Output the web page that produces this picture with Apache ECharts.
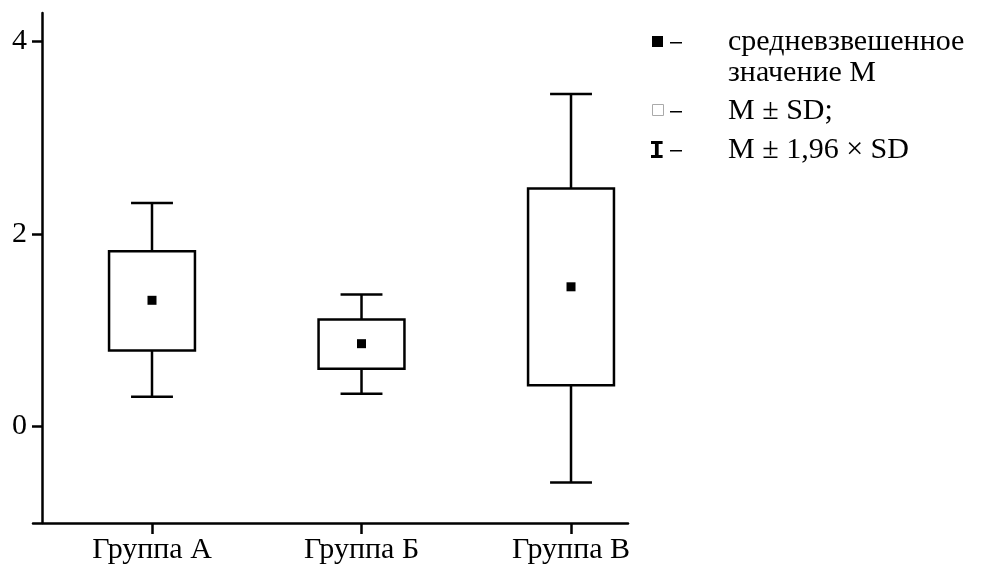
<!DOCTYPE html>
<html>
<head>
<meta charset="utf-8">
<script src="https://cdn.jsdelivr.net/npm/echarts@6/dist/echarts.min.js"></script>
<style>
  html, body { margin: 0; padding: 0; background: #fff; }
  #chart { width: 983px; height: 565px; }
</style>
</head>
<body>
<div id="chart"></div>
<script>
// группы
var groups = ['Группа А', 'Группа Б', 'Группа В']
var groupPos = [1, 2, 3]
// M
var means = [1.31, 0.86, 1.45]
// M ± SD
var boxLow = [0.79, 0.60, 0.43]
var boxHigh = [1.82, 1.11, 2.47]
// M ± 1,96 × SD
var whiskerLow = [0.31, 0.34, -0.58]
var whiskerHigh = [2.32, 1.37, 3.45]
// подписи оси Y
var yTicks = [0, 2, 4]

var font = '"Liberation Serif", "Times New Roman", serif'

var data = groupPos.map(function (x, i) {
  return [x, whiskerLow[i], boxLow[i], means[i], boxHigh[i], whiskerHigh[i]]
})

function renderBox(params, api) {
  var x = api.value(0)
  var pWLow = api.coord([x, api.value(1)])
  var pBLow = api.coord([x, api.value(2)])
  var pMean = api.coord([x, api.value(3)])
  var pBHigh = api.coord([x, api.value(4)])
  var pWHigh = api.coord([x, api.value(5)])
  var boxW = api.size([0.41, 0])[0]
  var capW = api.size([0.2, 0])[0]
  var cx = pMean[0]
  var line = { stroke: '#000', lineWidth: 2.5, fill: null }
  return {
    type: 'group',
    children: [
      { type: 'line', shape: { x1: cx, y1: pWHigh[1], x2: cx, y2: pBHigh[1] }, style: line },
      { type: 'line', shape: { x1: cx - capW / 2, y1: pWHigh[1], x2: cx + capW / 2, y2: pWHigh[1] }, style: line },
      { type: 'line', shape: { x1: cx, y1: pBLow[1], x2: cx, y2: pWLow[1] }, style: line },
      { type: 'line', shape: { x1: cx - capW / 2, y1: pWLow[1], x2: cx + capW / 2, y2: pWLow[1] }, style: line },
      {
        type: 'rect',
        shape: { x: cx - boxW / 2, y: pBHigh[1], width: boxW, height: pBLow[1] - pBHigh[1] },
        style: { stroke: '#000', lineWidth: 2.5, fill: '#fff' }
      },
      {
        type: 'rect',
        shape: { x: cx - 4.5, y: pMean[1] - 4.5, width: 9, height: 9 },
        style: { fill: '#000' }
      }
    ]
  }
}

var legendX = 728
var legendText = ['средневзвешенное', 'значение M', 'M ± SD;', 'M ± 1,96 × SD']
var legendY = [41, 72, 110, 149]

var graphics = legendText.map(function (t, i) {
  return {
    type: 'text', left: legendX, top: legendY[i] - 14,
    style: { text: t, font: '30px ' + font, fill: '#000' }
  }
})
// значки легенды
graphics.push(
  { type: 'rect', shape: { x: 652, y: 36, width: 11, height: 11 }, style: { fill: '#000' } },
  { type: 'rect', shape: { x: 652.5, y: 104.5, width: 11, height: 11 }, style: { fill: '#fff', stroke: '#aaa', lineWidth: 1 } },
  { type: 'text', left: 649, top: legendY[3] - 11, style: { text: 'I', font: 'bold 26px "Liberation Mono", monospace', fill: '#000' } }
)
;[42, 111, 150].forEach(function (y) {
  graphics.push({ type: 'rect', shape: { x: 670, y: y, width: 12, height: 1.5 }, style: { fill: '#000' } })
})

var chart = echarts.init(document.getElementById('chart'))
chart.setOption({
  animation: false,
  backgroundColor: '#fff',
  grid: { left: 33, right: 355, top: 13, bottom: 42 },
  xAxis: {
    type: 'value',
    min: 0.432,
    max: 3.272,
    splitLine: { show: false },
    axisLine: { show: true, onZero: false, lineStyle: { color: '#000', width: 2.5 } },
    axisTick: { show: true, customValues: groupPos, length: 11, lineStyle: { color: '#000', width: 2.5 } },
    axisLabel: {
      customValues: groupPos,
      margin: 12,
      color: '#000',
      fontFamily: font,
      fontSize: 30,
      formatter: function (v) { return groups[Math.round(v) - 1] }
    }
  },
  yAxis: {
    type: 'value',
    min: -1,
    max: 4.29,
    offset: -9,
    splitLine: { show: false },
    axisLine: { show: true, onZero: false, lineStyle: { color: '#000', width: 2.5 } },
    axisTick: { show: true, customValues: yTicks, length: 10, lineStyle: { color: '#000', width: 2.5 } },
    axisLabel: {
      customValues: yTicks,
      margin: 15,
      color: '#000',
      fontFamily: font,
      fontSize: 30
    }
  },
  series: [{
    type: 'custom',
    renderItem: renderBox,
    data: data,
    encode: { x: 0, y: [1, 2, 3, 4, 5] }
  }],
  graphic: graphics
})
</script>
</body>
</html>
